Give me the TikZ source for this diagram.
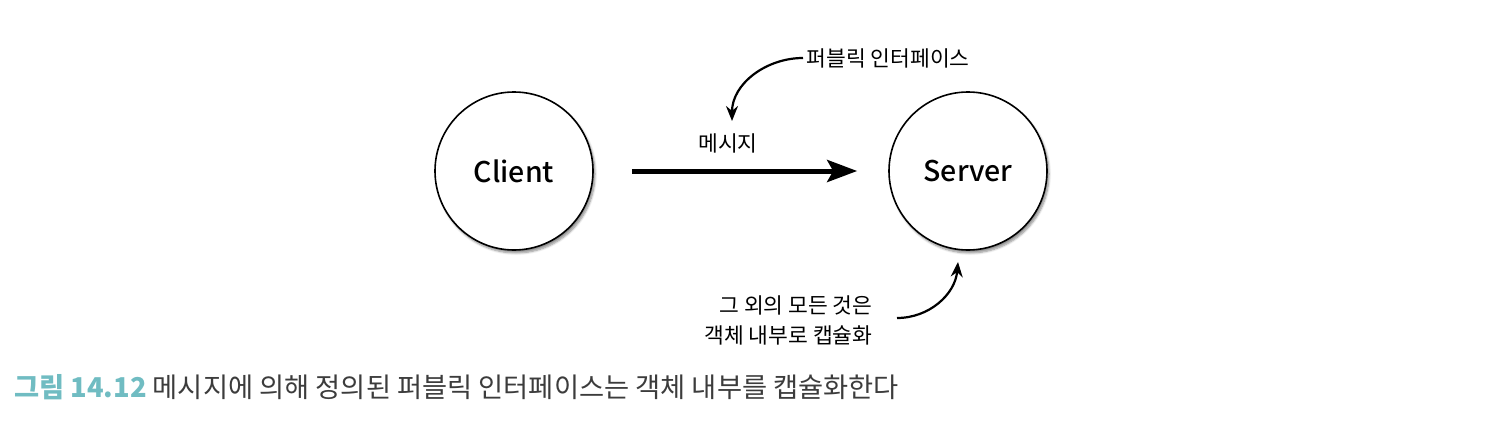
\documentclass[tikz,border=0pt]{standalone}
\usepackage{fontspec}
\setmainfont{Noto Sans CJK KR}
\newfontfamily\mediumfont{Noto Sans CJK KR Medium}
\usetikzlibrary{arrows.meta,shadows.blur}
\definecolor{capteal}{RGB}{112,188,194}
\definecolor{capgray}{RGB}{60,60,60}

\tikzset{
    actor/.style={circle, draw, line width=1.6pt, fill=white, minimum size=158pt,
        font=\mediumfont\fontsize{28.5}{34}\selectfont,
        blur shadow={shadow xshift=2pt, shadow yshift=-3pt, shadow blur steps=6, shadow opacity=45}},
    note/.style={font=\fontsize{21.5}{30}\selectfont},
    pointer/.style={-{Stealth[length=15pt,width=12pt]}, line width=2.2pt},
    msgarrow/.style={-{Stealth[length=30pt,width=22pt,inset=6pt]}, line width=5pt},
}

\begin{document}
\begin{tikzpicture}[x=1pt,y=-1pt]
    \useasboundingbox (0,0) rectangle (1494,436);
    \node[actor] (client) at (514,171) {Client};
    \node[actor] (server) at (968,171) {Server};
    \draw[msgarrow, shorten <=38pt, shorten >=31pt] (client) -- (server);
    \node[note] (msg) at (728,143) {메시지};
    % public interface
    \node[note, anchor=west] (pub) at (803,58) {퍼블릭 인터페이스};
    \coordinate (pubtip) at (732,121);
    \draw[pointer] (pub.west) to[out=180,in=90] (pubtip);
    % encapsulated rest
    \node[note, align=right, anchor=east] (rest) at (876,320) {그 외의 모든 것은\\객체 내부로 캡슐화};
    \coordinate (resttip) at (958,262);
    \draw[pointer] (rest.east) ++(21pt,2pt) coordinate (reststart) to[out=0,in=-95] (resttip);
    % caption
    \node[anchor=west, inner sep=0pt, font=\fontsize{27.3}{30}\selectfont] (caption) at (14,387)
        {{\color{capteal}\bfseries 그림 14.12} {\color{capgray}메시지에 의해 정의된 퍼블릭 인터페이스는 객체 내부를 캡슐화한다}};
\end{tikzpicture}
\end{document}
